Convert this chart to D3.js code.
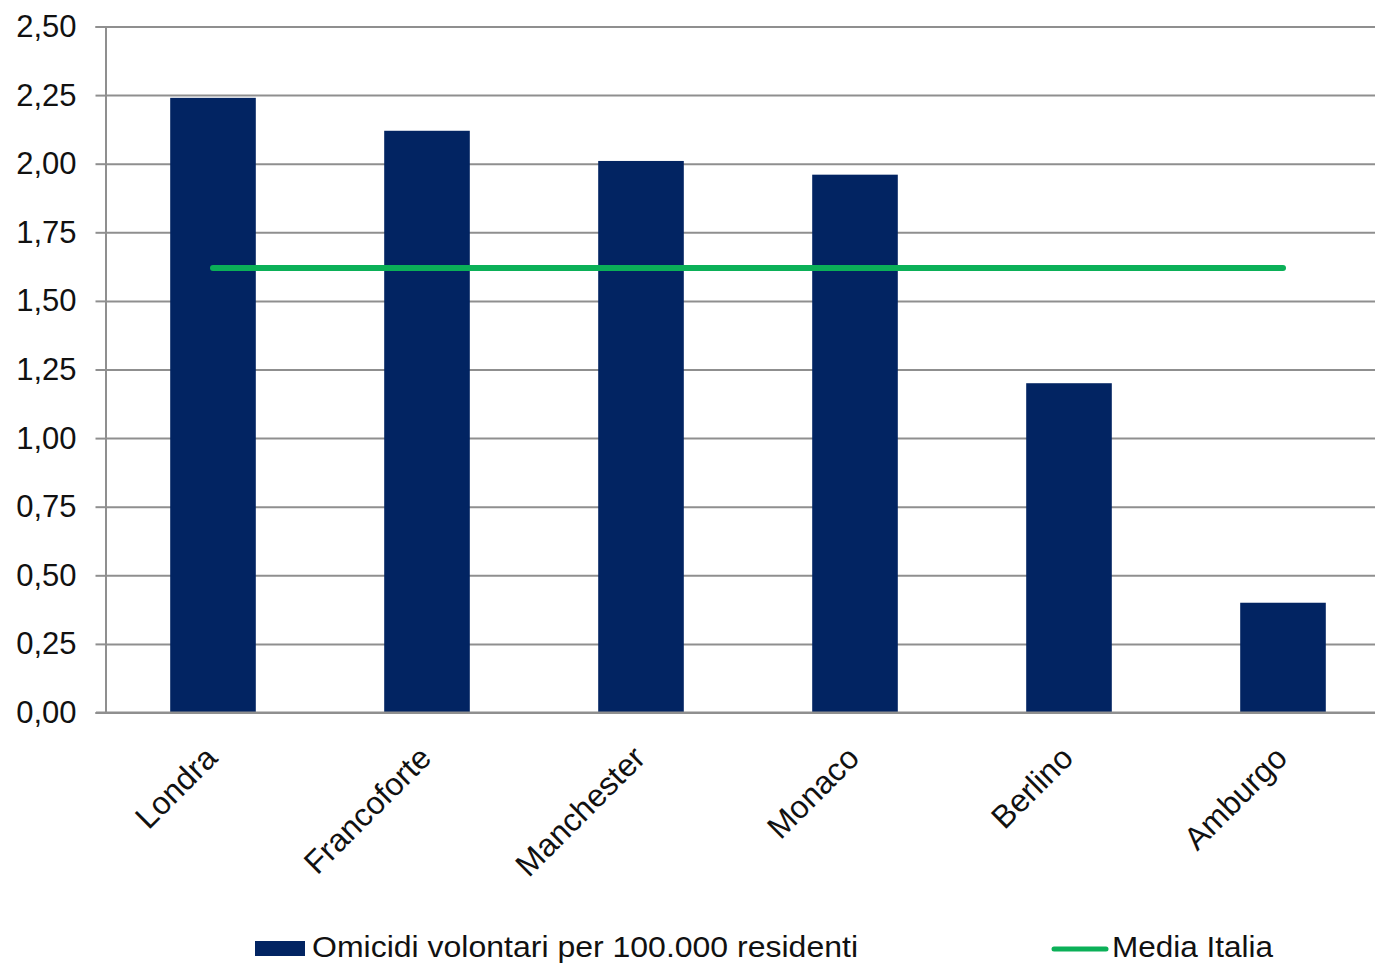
<!DOCTYPE html>
<html>
<head>
<meta charset="utf-8">
<script src="https://cdn.jsdelivr.net/npm/d3@7"></script>
<style>
  html, body { margin: 0; padding: 0; background: #fff; }
  svg { display: block; }
  text { font-family: "Liberation Sans", Arial, sans-serif; fill: #111; }
</style>
</head>
<body>
<div id="chart"></div>
<script>
const categories = ["Londra", "Francoforte", "Manchester", "Monaco", "Berlino", "Amburgo"];
const omicidi = [2.24, 2.12, 2.01, 1.96, 1.20, 0.40];
const mediaItalia = [1.62, 1.62, 1.62, 1.62, 1.62, 1.62];
const yTicks = [0, 0.25, 0.5, 0.75, 1.0, 1.25, 1.5, 1.75, 2.0, 2.25, 2.5];
const seriesNames = ["Omicidi volontari per 100.000 residenti", "Media Italia"];

const W = 1375, H = 967;
const mLeft = 106, mRight = 1390, mTop = 26.5, mBottom = 712.5;

const svg = d3.select("#chart").append("svg")
  .attr("width", W).attr("height", H);

const x = d3.scaleBand().domain(categories).range([mLeft, mRight]).paddingInner(0).paddingOuter(0);
const y = d3.scaleLinear().domain([0, 2.5]).range([mBottom, mTop]);

const itLocale = d3.formatLocale({decimal: ",", thousands: ".", grouping: [3], currency: ["€", ""]});
const fmt = itLocale.format(".2f");

// gridlines
svg.append("g")
  .attr("transform", `translate(${mLeft - 0.5},0)`)
  .call(d3.axisLeft(y).tickValues(yTicks).tickSize(-(mRight - mLeft)).tickFormat(""))
  .call(g => g.select(".domain").remove())
  .call(g => g.selectAll("line").attr("stroke", "#8f8f8f").attr("stroke-width", 2));

// y axis
svg.append("g")
  .attr("transform", `translate(${mLeft - 0.5},0)`)
  .call(d3.axisLeft(y).tickValues(yTicks).tickSize(10).tickPadding(19).tickFormat(fmt))
  .call(g => g.select(".domain").attr("stroke", "#8f8f8f").attr("stroke-width", 2))
  .call(g => g.selectAll("line").attr("stroke", "#8f8f8f").attr("stroke-width", 2))
  .call(g => g.selectAll("text").attr("font-size", 31).attr("fill", "#111")
      .style("font-family", '"Liberation Sans", Arial, sans-serif'));

// bars
const bw = x.bandwidth() * 0.4;
svg.append("g").selectAll("rect").data(categories).join("rect")
  .attr("x", (d) => x(d) + (x.bandwidth() - bw) / 2)
  .attr("y", (d, i) => y(omicidi[i]))
  .attr("width", bw)
  .attr("height", (d, i) => y(0) - y(omicidi[i]))
  .attr("fill", "#022462");

// x axis baseline
svg.append("line")
  .attr("x1", mLeft - 10).attr("x2", mRight)
  .attr("y1", y(0)).attr("y2", y(0))
  .attr("stroke", "#8f8f8f").attr("stroke-width", 2);

// media line
const line = d3.line()
  .x((d, i) => x(categories[i]) + x.bandwidth() / 2)
  .y(d => y(d));
svg.append("path")
  .datum(mediaItalia)
  .attr("d", line)
  .attr("fill", "none")
  .attr("stroke", "#0bb058")
  .attr("stroke-width", 6)
  .attr("stroke-linecap", "round");

// x labels
svg.append("g").selectAll("text").data(categories).join("text")
  .attr("transform", d => `translate(${x(d) + x.bandwidth() / 2 + 6},760) rotate(-45)`)
  .attr("text-anchor", "end")
  .attr("font-size", 32)
  .text(d => d);

// legend
const lg = svg.append("g");
lg.append("rect").attr("x", 255).attr("y", 941).attr("width", 50).attr("height", 15).attr("fill", "#022462");
lg.append("text").attr("x", 312).attr("y", 957).attr("font-size", 30)
  .attr("textLength", 546).attr("lengthAdjust", "spacingAndGlyphs").text(seriesNames[0]);
lg.append("line").attr("x1", 1054).attr("x2", 1106).attr("y1", 949).attr("y2", 949)
  .attr("stroke", "#0bb058").attr("stroke-width", 5).attr("stroke-linecap", "round");
lg.append("text").attr("x", 1112).attr("y", 957).attr("font-size", 30)
  .attr("textLength", 161).attr("lengthAdjust", "spacingAndGlyphs").text(seriesNames[1]);
</script>
</body>
</html>
